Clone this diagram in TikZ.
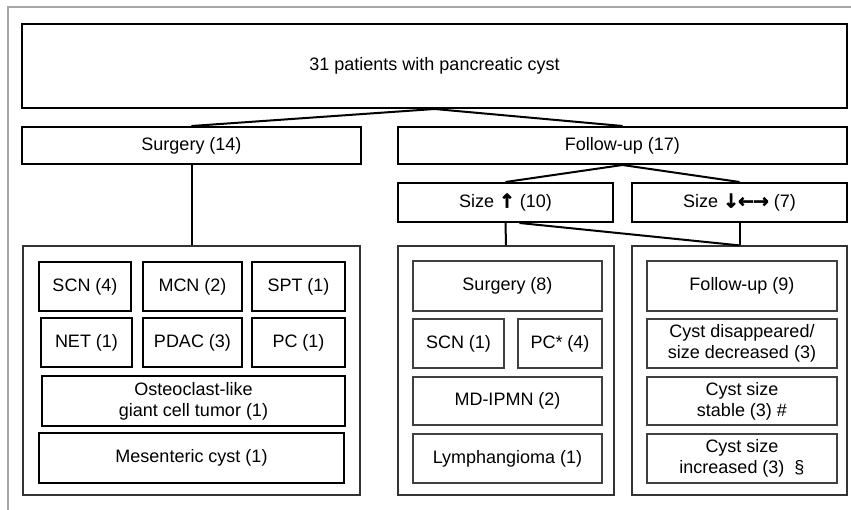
\documentclass[tikz,border=0pt]{standalone}
\usepackage{fontspec}
\setmainfont{Liberation Sans}
\newfontfamily\arrowfont{DejaVu Sans}[FakeBold=2.5]
\usetikzlibrary{calc}
\tikzset{
  base/.style={rectangle, inner sep=0pt, align=center, font=\fontsize{18}{21}\selectfont},
  mainbox/.style={base, draw=black, line width=2pt},
  thickbox/.style={base, draw=black, line width=2.4pt},
  thinbox/.style={base, draw=black!75, line width=1.3pt},
  groupbox/.style={base, draw=black!80, line width=1.2pt},
  conn/.style={draw=black, line width=2pt},
  frameline/.style={draw=black!35, line width=2pt}
}
\newcommand{\myup}{{\arrowfont\bfseries\fontsize{19}{21}\selectfont ↑}}
\newcommand{\mydown}{{\arrowfont\bfseries\fontsize{19}{21}\selectfont ↓\kern-1pt←\kern-1pt→}}
\begin{document}
\begin{tikzpicture}[x=1pt,y=-1pt]
\useasboundingbox (0,0) rectangle (851,510);
\fill[white] (0,0) rectangle (851,510);
\coordinate (frTR) at (851,7);
\coordinate (frTL) at (7.5,7);
\coordinate (frBL) at (7.5,510);
\draw[frameline] (frTR) -- (frTL) -- (frBL);

% top level
\node[mainbox, minimum width=825pt, minimum height=84pt] (top) at (434.5,66) {31 patients with pancreatic cyst};
\node[mainbox, minimum width=339pt, minimum height=37pt] (surg) at (191.5,145.5) {Surgery (14)};
\node[mainbox, minimum width=449pt, minimum height=37pt] (fu) at (622.5,145.5) {Follow-up (17)};
\node[mainbox, minimum width=215pt, minimum height=39pt] (sizeup) at (505.5,202.5) {Size \myup{} (10)};
\node[mainbox, minimum width=215pt, minimum height=39pt] (sizedn) at (739.5,202.5) {Size \mydown{} (7)};

% group boxes
\node[groupbox, minimum width=337pt, minimum height=249pt] (leftbig) at (191.5,370.5) {};
\node[groupbox, minimum width=216pt, minimum height=249pt] (midbig) at (506,370.5) {};
\node[groupbox, minimum width=215pt, minimum height=249pt] (rightbig) at (739.5,370.5) {};

% left inner
\node[thickbox, minimum width=92pt, minimum height=49pt] (scn4) at (85,286.5) {SCN (4)};
\node[thickbox, minimum width=99pt, minimum height=49pt] (mcn) at (192.5,286.5) {MCN (2)};
\node[thickbox, minimum width=93pt, minimum height=49pt] (spt) at (298.5,286.5) {SPT (1)};
\node[thickbox, minimum width=91pt, minimum height=49pt] (net) at (86.5,342.5) {NET (1)};
\node[thickbox, minimum width=99pt, minimum height=49pt] (pdac) at (192.5,342.5) {PDAC (3)};
\node[thickbox, minimum width=93pt, minimum height=49pt] (pc1) at (298.5,342.5) {PC (1)};
\node[thickbox, minimum width=303pt, minimum height=50pt] (osteo) at (193.5,401) {Osteoclast-like\\giant cell tumor (1)};
\node[thickbox, minimum width=305pt, minimum height=50pt] (mes) at (191.5,458) {Mesenteric cyst (1)};

% middle inner
\node[thinbox, minimum width=189pt, minimum height=50pt] (surg8) at (507.5,286) {Surgery (8)};
\node[thinbox, minimum width=91pt, minimum height=49pt] (scn1) at (458.5,343.5) {SCN (1)};
\node[thinbox, minimum width=84pt, minimum height=49pt] (pcs) at (560,343.5) {PC* (4)};
\node[thinbox, minimum width=189pt, minimum height=48pt] (mdipmn) at (507.5,401) {MD-IPMN (2)};
\node[thinbox, minimum width=189pt, minimum height=49pt] (lymph) at (507.5,458.5) {Lymphangioma (1)};

% right inner
\node[thinbox, minimum width=190pt, minimum height=50pt] (fu9) at (742,286) {Follow-up (9)};
\node[thinbox, minimum width=190pt, minimum height=49pt] (disap) at (742,343.5) {Cyst disappeared/\\size decreased (3)};
\node[thinbox, minimum width=190pt, minimum height=48pt] (stable) at (742,401) {Cyst size\\stable (3) \#};
\node[thinbox, minimum width=190pt, minimum height=49pt] (incr) at (742,458.5) {Cyst size\\increased (3)\ \ \S};

% connectors
\draw[conn] (surg.north) -- (top.south) -- (fu.north);
\draw[conn] (surg.south) -- (leftbig.north);
\draw[conn] (sizeup.north) -- (fu.south) -- (sizedn.north);
\draw[conn] (sizeup.south) -- (midbig.north);
\draw[conn] ([xshift=14pt]sizeup.south) -- (rightbig.north);
\draw[conn] (sizedn.south) -- (rightbig.north);
\end{tikzpicture}
\end{document}
